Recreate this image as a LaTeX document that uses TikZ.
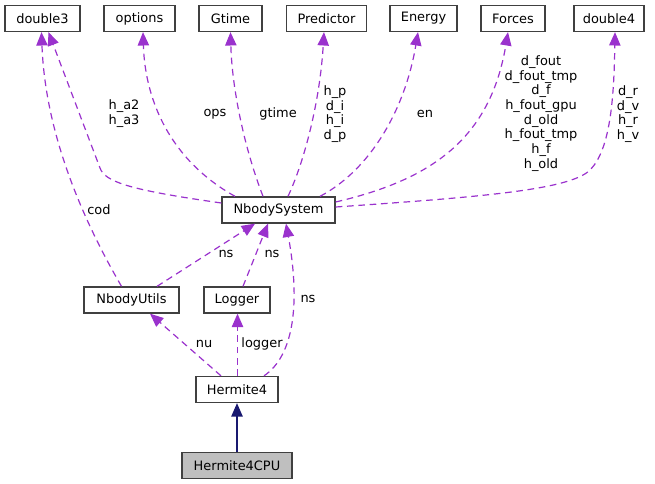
\documentclass[tikz,border=0pt]{standalone}
\usepackage{fontspec}
\setmainfont{DejaVu Sans}
\usetikzlibrary{arrows.meta,calc}

\definecolor{edgepurple}{HTML}{9A32CD}
\definecolor{edgenavy}{HTML}{191970}
\definecolor{boxgray}{HTML}{BFBFBF}

\tikzset{every picture/.style={line width=0.75pt}}
\tikzset{
  cls/.style={draw=black!75, line width=1pt, fill=white, inner sep=0pt, minimum height=19.5pt,
    font=\fontsize{9.7}{11}\selectfont},
  lbl/.style={inner sep=0pt, align=center, font=\fontsize{9.7}{11}\selectfont},
  usage/.style={draw=edgepurple, line width=0.9pt, dash pattern=on 5pt off 3.5pt,
    -{Triangle[length=10pt,width=8.5pt,fill=edgepurple]}},
  inherit/.style={draw=edgenavy, line width=0.9pt, -{Triangle[length=10pt,width=8.5pt,fill=edgenavy]}}
}

\begin{document}
\begin{tikzpicture}[x=0.75pt,y=0.75pt,yscale=-1,xscale=1]
\useasboundingbox (0,0) rectangle (655,484);

% Text Node
\node [cls, minimum width=56.25pt] (d3) at (42.5,18.5) {double3};
% Text Node
\node [cls, minimum width=53.25pt] (opt) at (139.5,18.5) {options};
% Text Node
\node [cls, minimum width=47.25pt] (gt) at (230.5,18.5) {Gtime};
% Text Node
\node [cls, minimum width=60pt] (pred) at (326.5,18.5) {Predictor};
% Text Node
\node [cls, minimum width=50.25pt] (en) at (423.5,18.5) {Energy};
% Text Node
\node [cls, minimum width=48pt] (frc) at (513,18.5) {Forces};
% Text Node
\node [cls, minimum width=52.5pt] (d4) at (609,18.5) {double4};
% Text Node
\node [cls, minimum width=84.75pt] (ns) at (278.5,210) {NbodySystem};
% Text Node
\node [cls, minimum width=71.25pt] (nu) at (131.5,300) {NbodyUtils};
% Text Node
\node [cls, minimum width=49.5pt] (log) at (237,300) {Logger};
% Text Node
\node [cls, minimum width=61.5pt] (h4) at (237,389.5) {Hermite4};
% Text Node
\node [cls, minimum width=82.5pt, fill=boxgray] (h4cpu) at (237,465.5) {Hermite4CPU};

%Curve Lines
\draw [usage] ($(ns.west)+(0,-7)$) .. controls (130,190) and (105,182) .. (100,168) -- ($(d3.south)+(6,0)$);
%Curve Lines
\draw [usage] ($(nu.north)+(-10,0)$) .. controls (80,215) and (45,130) .. ($(d3.south)+(-1,0)$);
%Curve Lines
\draw [usage] ($(ns.north)+(-43.5,0)$) .. controls (170,160) and (145,100) .. ($(opt.south)+(3.5,0)$);
%Curve Lines
\draw [usage] ($(ns.north)+(-15.5,0)$) .. controls (245,150) and (232,90) .. (gt.south);
%Curve Lines
\draw [usage] ($(ns.north)+(9.5,0)$) .. controls (305,160) and (320,100) .. ($(pred.south)+(-2.5,0)$);
%Curve Lines
\draw [usage] ($(ns.north)+(41.5,0)$) .. controls (370,170) and (405,110) .. ($(en.south)+(-5.5,0)$);
%Curve Lines
\draw [usage] ($(ns.east)+(0,-8)$) .. controls (430,180) and (490,140) .. ($(frc.south)+(-5,0)$);
%Curve Lines
\draw [usage] ($(ns.east)+(0,-3)$) .. controls (480,197) and (570,190) .. (590,170) .. controls (610,150) and (614,100) .. ($(d4.south)+(6,0)$);

%Straight Lines
\draw [usage] ($(nu.north)+(25.5,0)$) -- ($(ns.south)+(-23.5,0)$);
%Straight Lines
\draw [usage] ($(log.north)+(6,0)$) -- ($(ns.south)+(-10.5,0)$);
%Curve Lines
\draw [usage] ($(h4.north)+(27,0)$) .. controls (295,355) and (300,300) .. ($(ns.south)+(7.5,0)$);
%Straight Lines
\draw [usage] ($(h4.north)+(-16,0)$) -- ($(nu.south)+(18.5,0)$);
%Straight Lines
\draw [usage] ($(h4.north)+(0.5,0)$) -- ($(log.south)+(0.5,0)$);
%Straight Lines
\draw [inherit] (h4cpu.north) -- (h4.south);

% Text Node
\node [lbl] (l_ha) at (124,113.5) {h\_a2\\h\_a3};
% Text Node
\node [lbl] (l_cod) at (99,210) {cod};
% Text Node
\node [lbl] (l_ops) at (215,114) {ops};
% Text Node
\node [lbl] (l_gtime) at (278,114) {gtime};
% Text Node
\node [lbl] (l_pred) at (335,114) {h\_p\\d\_i\\h\_i\\d\_p};
% Text Node
\node [lbl] (l_en) at (425,114) {en};
% Text Node
\node [lbl] (l_frc) at (541,113.5) {d\_fout\\d\_fout\_tmp\\d\_f\\h\_fout\_gpu\\d\_old\\h\_fout\_tmp\\h\_f\\h\_old};
% Text Node
\node [lbl] (l_d4) at (628,114) {d\_r\\d\_v\\h\_r\\h\_v};
% Text Node
\node [lbl] (l_ns1) at (226,254) {ns};
% Text Node
\node [lbl] (l_ns2) at (272,254) {ns};
% Text Node
\node [lbl] (l_ns3) at (308,299) {ns};
% Text Node
\node [lbl] (l_nu) at (204,344) {nu};
% Text Node
\node [lbl] (l_log) at (262,344) {logger};

\end{tikzpicture}
\end{document}
